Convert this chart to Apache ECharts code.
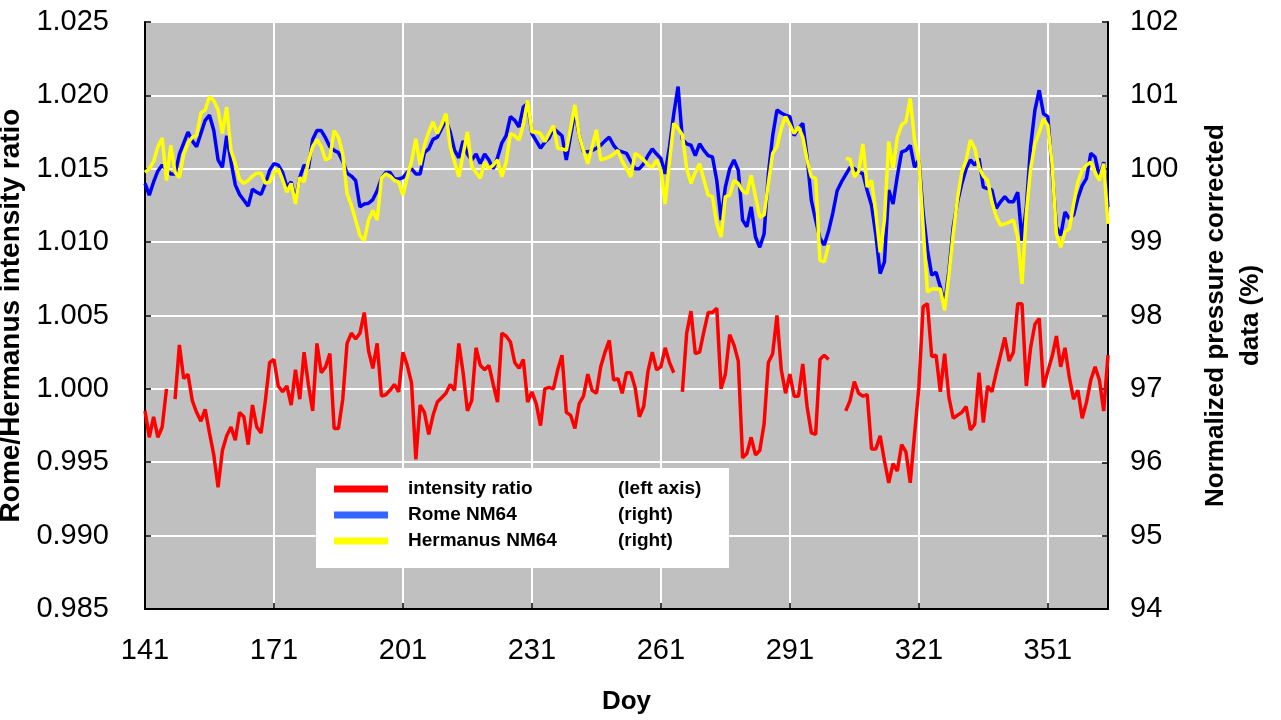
<!DOCTYPE html>
<html>
<head>
<meta charset="utf-8">
<title>Rome / Hermanus NM64</title>
<script src="https://cdn.jsdelivr.net/npm/echarts@6/dist/echarts.min.js"></script>
<style>
  html, body { margin: 0; padding: 0; background: #fff; }
  #chart { width: 1281px; height: 720px; }
</style>
</head>
<body>
<div id="chart"></div>
<script>
// Day-of-year range covered by the daily series
const DAY0 = 141;
const DAY1 = 365;
const DAY_STEP = 30;

// Rome / Hermanus intensity ratio (left axis), one value per day from DAY0, null = no data
const ratio = [
  0.9985, 0.9967, 0.9981, 0.9967, 0.9974, 1.0000, null,   0.9993, 1.0030, 1.0007,
  1.0010, 0.9992, 0.9984, 0.9978, 0.9986, 0.9970, 0.9955, 0.9933, 0.9958, 0.9968,
  0.9974, 0.9965, 0.9984, 0.9981, 0.9962, 0.9989, 0.9974, 0.9970, 0.9992, 1.0018,
  1.0020, 1.0002, 0.9998, 1.0002, 0.9989, 1.0013, 0.9993, 1.0025, 1.0003, 0.9985,
  1.0031, 1.0011, 1.0015, 1.0024, 0.9973, 0.9973, 0.9993, 1.0031, 1.0038, 1.0034,
  1.0038, 1.0052, 1.0026, 1.0014, 1.0031, 0.9995, 0.9996, 0.9999, 1.0003, 0.9998,
  1.0025, 1.0016, 1.0004, 0.9952, 0.9989, 0.9984, 0.9969, 0.9982, 0.9991, 0.9994,
  0.9997, 1.0003, 0.9999, 1.0031, 1.0011, 0.9985, 0.9992, 1.0028, 1.0016, 1.0013,
  1.0016, 1.0003, 0.9991, 1.0038, 1.0036, 1.0032, 1.0018, 1.0014, 1.0020, 0.9991,
  0.9998, 0.9990, 0.9975, 1.0000, 1.0001, 1.0000, 1.0013, 1.0023, 0.9984, 0.9982,
  0.9973, 0.9990, 0.9995, 1.0010, 0.9999, 0.9997, 1.0015, 1.0025, 1.0033, 1.0006,
  1.0007, 0.9997, 1.0011, 1.0011, 1.0001, 0.9981, 0.9988, 1.0012, 1.0025, 1.0013,
  1.0015, 1.0028, 1.0018, 1.0011, null,   0.9998, 1.0038, 1.0053, 1.0024, 1.0025,
  1.0039, 1.0052, 1.0052, 1.0055, 1.0000, 1.0010, 1.0037, 1.0030, 1.0019, 0.9953,
  0.9956, 0.9967, 0.9955, 0.9958, 0.9976, 1.0018, 1.0024, 1.0050, 1.0013, 0.9997,
  1.0010, 0.9995, 0.9995, 1.0017, 0.9988, 0.9970, 0.9969, 1.0020, 1.0023, 1.0020,
  null,   null,   null,   0.9985, 0.9992, 1.0005, 0.9997, 0.9995, 0.9996, 0.9959,
  0.9959, 0.9968, 0.9951, 0.9936, 0.9949, 0.9944, 0.9962, 0.9957, 0.9936, 0.9969,
  1.0001, 1.0056, 1.0058, 1.0022, 1.0023, 0.9998, 1.0024, 0.9994, 0.9980, 0.9982,
  0.9984, 0.9988, 0.9972, 0.9976, 1.0011, 0.9977, 1.0002, 0.9998, 1.0011, 1.0023,
  1.0035, 1.0019, 1.0025, 1.0058, 1.0058, 1.0002, 1.0028, 1.0044, 1.0048, 1.0001,
  1.0012, 1.0022, 1.0036, 1.0015, 1.0028, 1.0008, 0.9993, 0.9999, 0.9980, 0.9991,
  1.0006, 1.0015, 1.0006, 0.9985, 1.0023
];

// Rome NM64, normalized pressure corrected count rate in % (right axis)
const rome = [
  99.80, 99.64, 99.82, 99.97, 100.05, 99.98, 99.93, 99.93, 100.20, 100.35,
  100.50, 100.38, 100.30, 100.48, 100.66, 100.73, 100.52, 100.12, 100.02, 100.45,
  100.10, 99.78, 99.65, 99.57, 99.49, 99.72, 99.68, 99.65, 99.80, 99.98,
  100.07, 100.05, 99.95, 99.75, 99.82, 99.57, 99.88, 100.05, 100.00, 100.40,
  100.52, 100.52, 100.42, 100.30, 100.25, 100.22, 100.10, 99.94, 99.90, 99.84,
  99.48, 99.52, 99.53, 99.58, 99.70, 99.87, 99.95, 99.95, 99.86, 99.86,
  99.88, 99.95, 100.00, 99.93, 99.93, 100.22, 100.27, 100.40, 100.43, 100.55,
  100.66, 100.50, 100.25, 100.15, 100.38, 100.20, 100.12, 100.20, 100.07, 100.20,
  100.12, 100.00, 100.15, 100.35, 100.45, 100.71, 100.66, 100.57, 100.84, 100.89,
  100.48, 100.38, 100.28, 100.36, 100.42, 100.55, 100.50, 100.45, 100.12, 100.45,
  100.78, 100.45, 100.23, 100.23, 100.25, 100.28, 100.32, 100.38, 100.43, 100.32,
  100.25, 100.23, 100.21, 100.10, 100.00, 100.00, 100.07, 100.18, 100.27, 100.20,
  100.14, 99.93, 100.30, 100.75, 101.12, 100.40, 100.34, 100.32, 100.18, 100.34,
  100.25, 100.18, 100.16, 99.84, 99.30, 99.75, 100.00, 100.12, 99.98, 99.30,
  99.21, 99.48, 99.07, 98.93, 99.11, 99.93, 100.45, 100.80, 100.76, 100.73,
  100.71, 100.45, 100.55, 100.62, 100.16, 99.57, 99.30, 99.05, 98.96, 99.15,
  99.40, 99.70, 99.82, 99.92, 100.02, 100.00, 99.96, 99.93, 99.70, 99.50,
  99.10, 98.57, 98.73, 99.71, 99.52, 99.90, 100.23, 100.25, 100.32, 100.02,
  100.12, 99.40, 98.90, 98.55, 98.59, 98.39, 98.16, 98.61, 99.21, 99.55,
  99.80, 100.00, 100.12, 100.05, 100.14, 99.75, 99.73, 99.71, 99.46, 99.55,
  99.62, 99.55, 99.55, 99.68, 99.02, 99.48, 100.30, 100.80, 101.07, 100.75,
  100.71, 99.98, 99.21, 99.09, 99.41, 99.32, 99.37, 99.60, 99.77, 99.87,
  100.21, 100.16, 99.89, 100.09, 99.48
];

// Hermanus NM64, normalized pressure corrected count rate in % (right axis)
const hermanus = [
  99.95, 100.00, 100.10, 100.30, 100.42, 99.84, 100.32, 99.95, 99.88, 100.20,
  100.35, 100.43, 100.45, 100.76, 100.80, 100.98, 100.93, 100.80, 100.48, 100.84,
  100.25, 100.07, 99.85, 99.80, 99.84, 99.90, 99.94, 99.94, 99.80, 99.82,
  99.95, 100.00, 99.85, 99.68, 99.80, 99.52, 99.88, 99.82, 100.10, 100.30,
  100.40, 100.30, 100.12, 100.15, 100.52, 100.43, 100.20, 99.66, 99.50, 99.30,
  99.09, 99.02, 99.30, 99.43, 99.30, 99.87, 99.93, 99.90, 99.84, 99.82,
  99.64, 99.89, 100.10, 100.41, 100.05, 100.32, 100.50, 100.64, 100.48, 100.60,
  100.75, 100.30, 100.09, 99.89, 100.20, 100.50, 100.03, 99.95, 99.87, 100.09,
  100.00, 100.05, 100.12, 99.89, 100.09, 100.48, 100.45, 100.39, 100.60, 100.93,
  100.50, 100.50, 100.48, 100.37, 100.48, 100.59, 100.28, 100.27, 100.25, 100.55,
  100.87, 100.45, 100.25, 100.07, 100.30, 100.53, 100.12, 100.14, 100.16, 100.20,
  100.25, 100.10, 100.00, 99.89, 100.21, 100.17, 100.12, 100.05, 100.02, 100.12,
  99.98, 99.52, 100.10, 100.62, 100.55, 100.46, 100.00, 99.80, 99.95, 100.07,
  99.85, 99.64, 99.62, 99.25, 99.07, 99.62, 99.64, 99.84, 99.80, 99.70,
  99.66, 99.91, 99.62, 99.34, 99.37, 99.80, 100.21, 100.30, 100.55, 100.71,
  100.60, 100.48, 100.57, 100.43, 100.12, 99.89, 99.87, 98.75, 98.73, 98.96,
  null, null, null, 100.14, 100.13, 99.89, 99.96, 100.34, 99.75, 99.84,
  99.40, 98.86, 99.30, 100.37, 100.00, 100.43, 100.60, 100.64, 100.96, 100.39,
  100.12, 99.20, 98.32, 98.36, 98.36, 98.36, 98.07, 98.55, 99.11, 99.60,
  99.95, 100.12, 100.39, 100.28, 100.02, 99.90, 99.84, 99.55, 99.35, 99.23,
  99.25, 99.27, 99.30, 99.07, 98.43, 99.39, 100.00, 100.34, 100.50, 100.68,
  100.59, 100.07, 99.11, 98.93, 99.14, 99.18, 99.52, 99.82, 99.98, 100.05,
  100.09, 99.95, 99.84, 100.07, 99.25
];

// Legend entries: series name and the axis note shown beside it
const seriesNames = ['intensity ratio', 'Rome NM64', 'Hermanus NM64'];
const axisNotes = ['(left axis)', '(right)', '(right)'];

const FONT = '"Liberation Sans", Arial, sans-serif';
const lineColors = ['#ff0000', '#0000ff', '#ffff00'];
const legendColors = ['#ff0000', '#3366ff', '#ffff00'];

// x is stored as days since DAY0 so the tick grid starts exactly at DAY0
function toPoints(values) {
  return values.map((v, i) => [i, v === null ? '-' : v]);
}

const axisLineStyle = { color: '#000', width: 2 };
const tickStyle = { inside: true, length: 6, lineStyle: { color: '#000', width: 1.5 } };
const labelStyle = { color: '#000', fontSize: 29, fontFamily: FONT };
const titleStyle = { color: '#000', fontSize: 26, fontWeight: 'bold', fontFamily: FONT };
const legendFont = { fontSize: 19, fontWeight: 'bold', fontFamily: FONT, lineHeight: 26, color: '#000' };

const chart = echarts.init(document.getElementById('chart'), null, { renderer: 'canvas' });

chart.setOption({
  animation: false,
  backgroundColor: '#fff',
  grid: {
    left: 145, right: 173, top: 22, bottom: 111,
    outerBoundsMode: 'none',
    containLabel: false,
    show: true, backgroundColor: '#c0c0c0', borderWidth: 0
  },
  xAxis: {
    type: 'value',
    min: 0,
    max: DAY1 - DAY0,
    interval: DAY_STEP,
    name: 'Doy',
    nameLocation: 'middle',
    nameGap: 80,
    nameTextStyle: titleStyle,
    axisLine: { lineStyle: axisLineStyle },
    axisTick: tickStyle,
    axisLabel: Object.assign({ margin: 27, showMaxLabel: false, formatter: v => String(v + DAY0) }, labelStyle),
    splitLine: { show: true, lineStyle: { color: '#fff', width: 2 } }
  },
  yAxis: [
    {
      type: 'value',
      position: 'left',
      min: 0.985,
      max: 1.025,
      interval: 0.005,
      name: 'Rome/Hermanus intensity ratio',
      nameLocation: 'middle',
      nameRotate: 90,
      nameGap: 109,
      nameTextStyle: Object.assign({}, titleStyle, { fontSize: 28 }),
      axisLine: { show: true, lineStyle: axisLineStyle },
      axisTick: Object.assign({ show: true }, tickStyle),
      axisLabel: Object.assign({ margin: 36, formatter: v => v.toFixed(3) }, labelStyle),
      splitLine: { show: true, lineStyle: { color: '#fff', width: 2 } }
    },
    {
      type: 'value',
      position: 'right',
      min: 94,
      max: 102,
      interval: 1,
      name: 'Normalized pressure corrected\ndata (%)',
      nameLocation: 'middle',
      nameRotate: 90,
      nameGap: 90,
      nameTextStyle: Object.assign({ lineHeight: 35 }, titleStyle),
      axisLine: { show: true, lineStyle: axisLineStyle },
      axisTick: Object.assign({ show: true }, tickStyle),
      axisLabel: Object.assign({ margin: 22, formatter: v => String(v) }, labelStyle),
      splitLine: { show: false }
    }
  ],
  legend: {
    orient: 'vertical',
    left: 316,
    top: 468,
    backgroundColor: '#fff',
    padding: [8, 11, 14, 18],
    itemGap: 0,
    itemWidth: 54,
    itemHeight: 7,
    icon: 'rect',
    selectedMode: false,
    data: seriesNames.map((n, i) => ({
      name: n,
      itemStyle: { color: legendColors[i], borderWidth: 0 }
    })),
    formatter: name => {
      const i = seriesNames.indexOf(name);
      return '{n|' + name + '}{t|' + axisNotes[i] + '}';
    },
    textStyle: Object.assign({
      rich: {
        n: Object.assign({ width: 210, padding: [0, 0, 0, 15] }, legendFont),
        t: Object.assign({ width: 100 }, legendFont)
      }
    }, legendFont)
  },
  series: [
    {
      name: seriesNames[0], type: 'line', yAxisIndex: 0,
      data: toPoints(ratio), showSymbol: false, symbol: 'none',
      lineStyle: { color: lineColors[0], width: 3.5 }, itemStyle: { color: lineColors[0] },
      connectNulls: false, z: 3
    },
    {
      name: seriesNames[1], type: 'line', yAxisIndex: 1,
      data: toPoints(rome), showSymbol: false, symbol: 'none',
      lineStyle: { color: lineColors[1], width: 3.5 }, itemStyle: { color: lineColors[1] },
      connectNulls: false, z: 3
    },
    {
      name: seriesNames[2], type: 'line', yAxisIndex: 1,
      data: toPoints(hermanus), showSymbol: false, symbol: 'none',
      lineStyle: { color: lineColors[2], width: 3.5 }, itemStyle: { color: lineColors[2] },
      connectNulls: false, z: 4
    }
  ]
});
</script>
</body>
</html>
